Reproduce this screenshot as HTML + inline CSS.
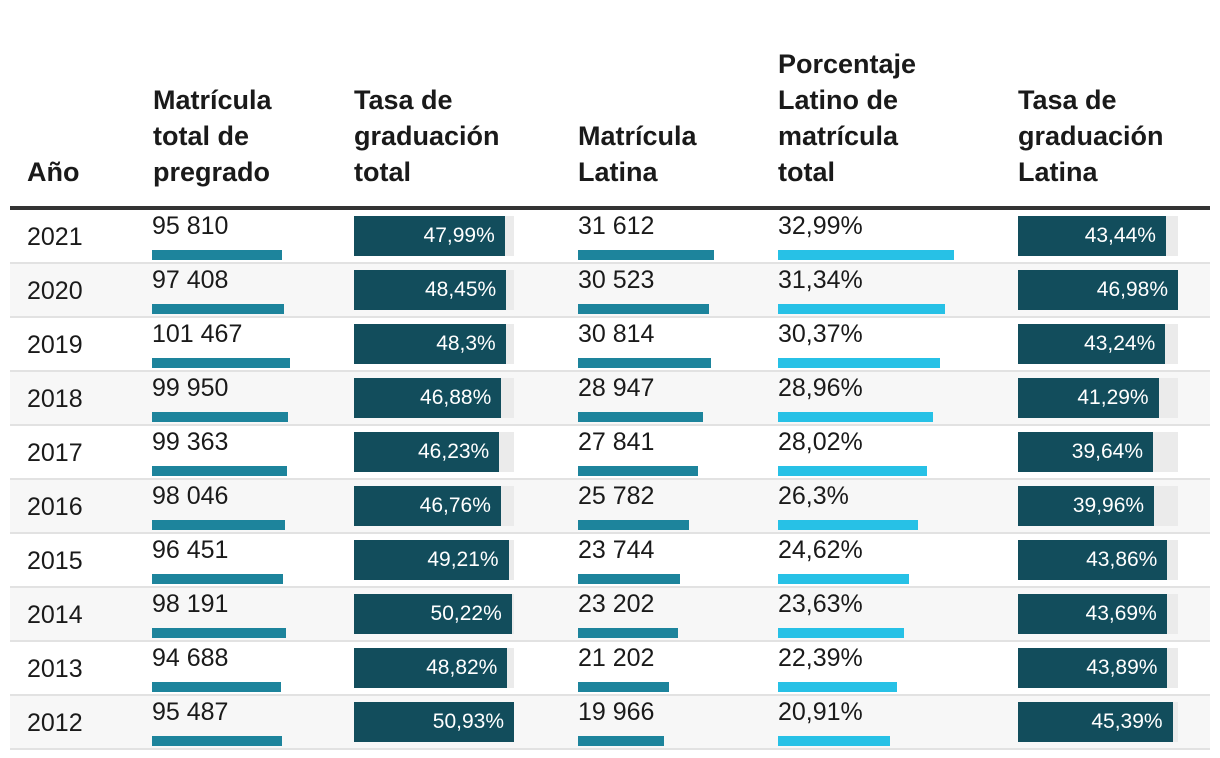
<!DOCTYPE html>
<html><head><meta charset="utf-8"><style>
body{margin:0;background:#fff;width:1220px;height:758px;overflow:hidden;font-family:"Liberation Sans",sans-serif;color:#1a1a1a}
.h{position:absolute;font-weight:bold;font-size:27px;line-height:36px;bottom:568px}
.rule{position:absolute;left:10px;top:206px;width:1200px;height:4px;background:#333}
.row{position:absolute;left:10px;width:1200px;height:52px;border-bottom:2px solid #e2e2e2}
.t{position:absolute;font-size:25px;white-space:nowrap}
.bar{position:absolute}
.lbl{position:absolute;color:#fff;font-size:21px;top:0;line-height:40px;text-align:right}
</style></head><body>
<div class="h" style="left:27px">Año</div>
<div class="h" style="left:153px">Matrícula<br>total de<br>pregrado</div>
<div class="h" style="left:354px">Tasa de<br>graduación<br>total</div>
<div class="h" style="left:578px">Matrícula<br>Latina</div>
<div class="h" style="left:778px">Porcentaje<br>Latino de<br>matrícula<br>total</div>
<div class="h" style="left:1018px">Tasa de<br>graduación<br>Latina</div>
<div class="rule"></div>
<div id="tbl"></div>
<script>
const years=[2021,2020,2019,2018,2017,2016,2015,2014,2013,2012];
const totalEnroll=[95810,97408,101467,99950,99363,98046,96451,98191,94688,95487];
const totalGrad=[47.99,48.45,48.3,46.88,46.23,46.76,49.21,50.22,48.82,50.93];
const latEnroll=[31612,30523,30814,28947,27841,25782,23744,23202,21202,19966];
const latShare=[32.99,31.34,30.37,28.96,28.02,26.3,24.62,23.63,22.39,20.91];
const latGrad=[43.44,46.98,43.24,41.29,39.64,39.96,43.86,43.69,43.89,45.39];
const fmtN=v=>String(v).replace(/\B(?=(\d{3})+(?!\d))/g,' ');
const fmtP=v=>String(v).replace('.',',')+'%';
const tbl=document.getElementById('tbl');
function el(parent,cls,style,text){const d=document.createElement('div');if(cls)d.className=cls;d.style.cssText=style;if(text!=null)d.textContent=text;parent.appendChild(d);return d;}
const mTE=Math.max(...totalEnroll),mTG=Math.max(...totalGrad),mLE=Math.max(...latEnroll),mLS=Math.max(...latShare),mLG=Math.max(...latGrad);
years.forEach((y,i)=>{
  const top=210+i*54;
  const r=el(tbl,'row',`top:${top}px;background:${i%2?'#f7f7f7':'#fff'}`);
  
  
  const yt=el(r,'t',`left:17px;top:13px;font-size:25px`,String(y));
  
  
  function small(x,w,max,val,txt,color,name){
    const t=el(r,'t',`left:${x-10}px;top:2px`,txt);
    
    
    const b=el(r,'bar',`left:${x-10}px;top:40px;height:10px;width:${w*val/max}px;background:${color}`);
    
    
  }
  small(152,138,mTE,totalEnroll[i],fmtN(totalEnroll[i]),'#1d849c','total-enrollment');
  small(578,136,mLE,latEnroll[i],fmtN(latEnroll[i]),'#1d849c','latino-enrollment');
  small(778,176,mLS,latShare[i],fmtP(latShare[i]),'#27c1e6','latino-share');
  function big(x,w,max,val,name){
    const tr=el(r,'bar',`left:${x-10}px;top:6px;height:40px;width:${w}px;background:#ebebeb`);
    
    
    const bw=w*val/max;
    const b=el(r,'bar',`left:${x-10}px;top:6px;height:40px;width:${bw}px;background:#124d5c`);
    
    
    const l=el(b,'lbl',`right:10px`,fmtP(val));
    
    
  }
  big(354,160,mTG,totalGrad[i],'total-graduation');
  big(1018,160,mLG,latGrad[i],'latino-graduation');
});
</script>
</body></html>
